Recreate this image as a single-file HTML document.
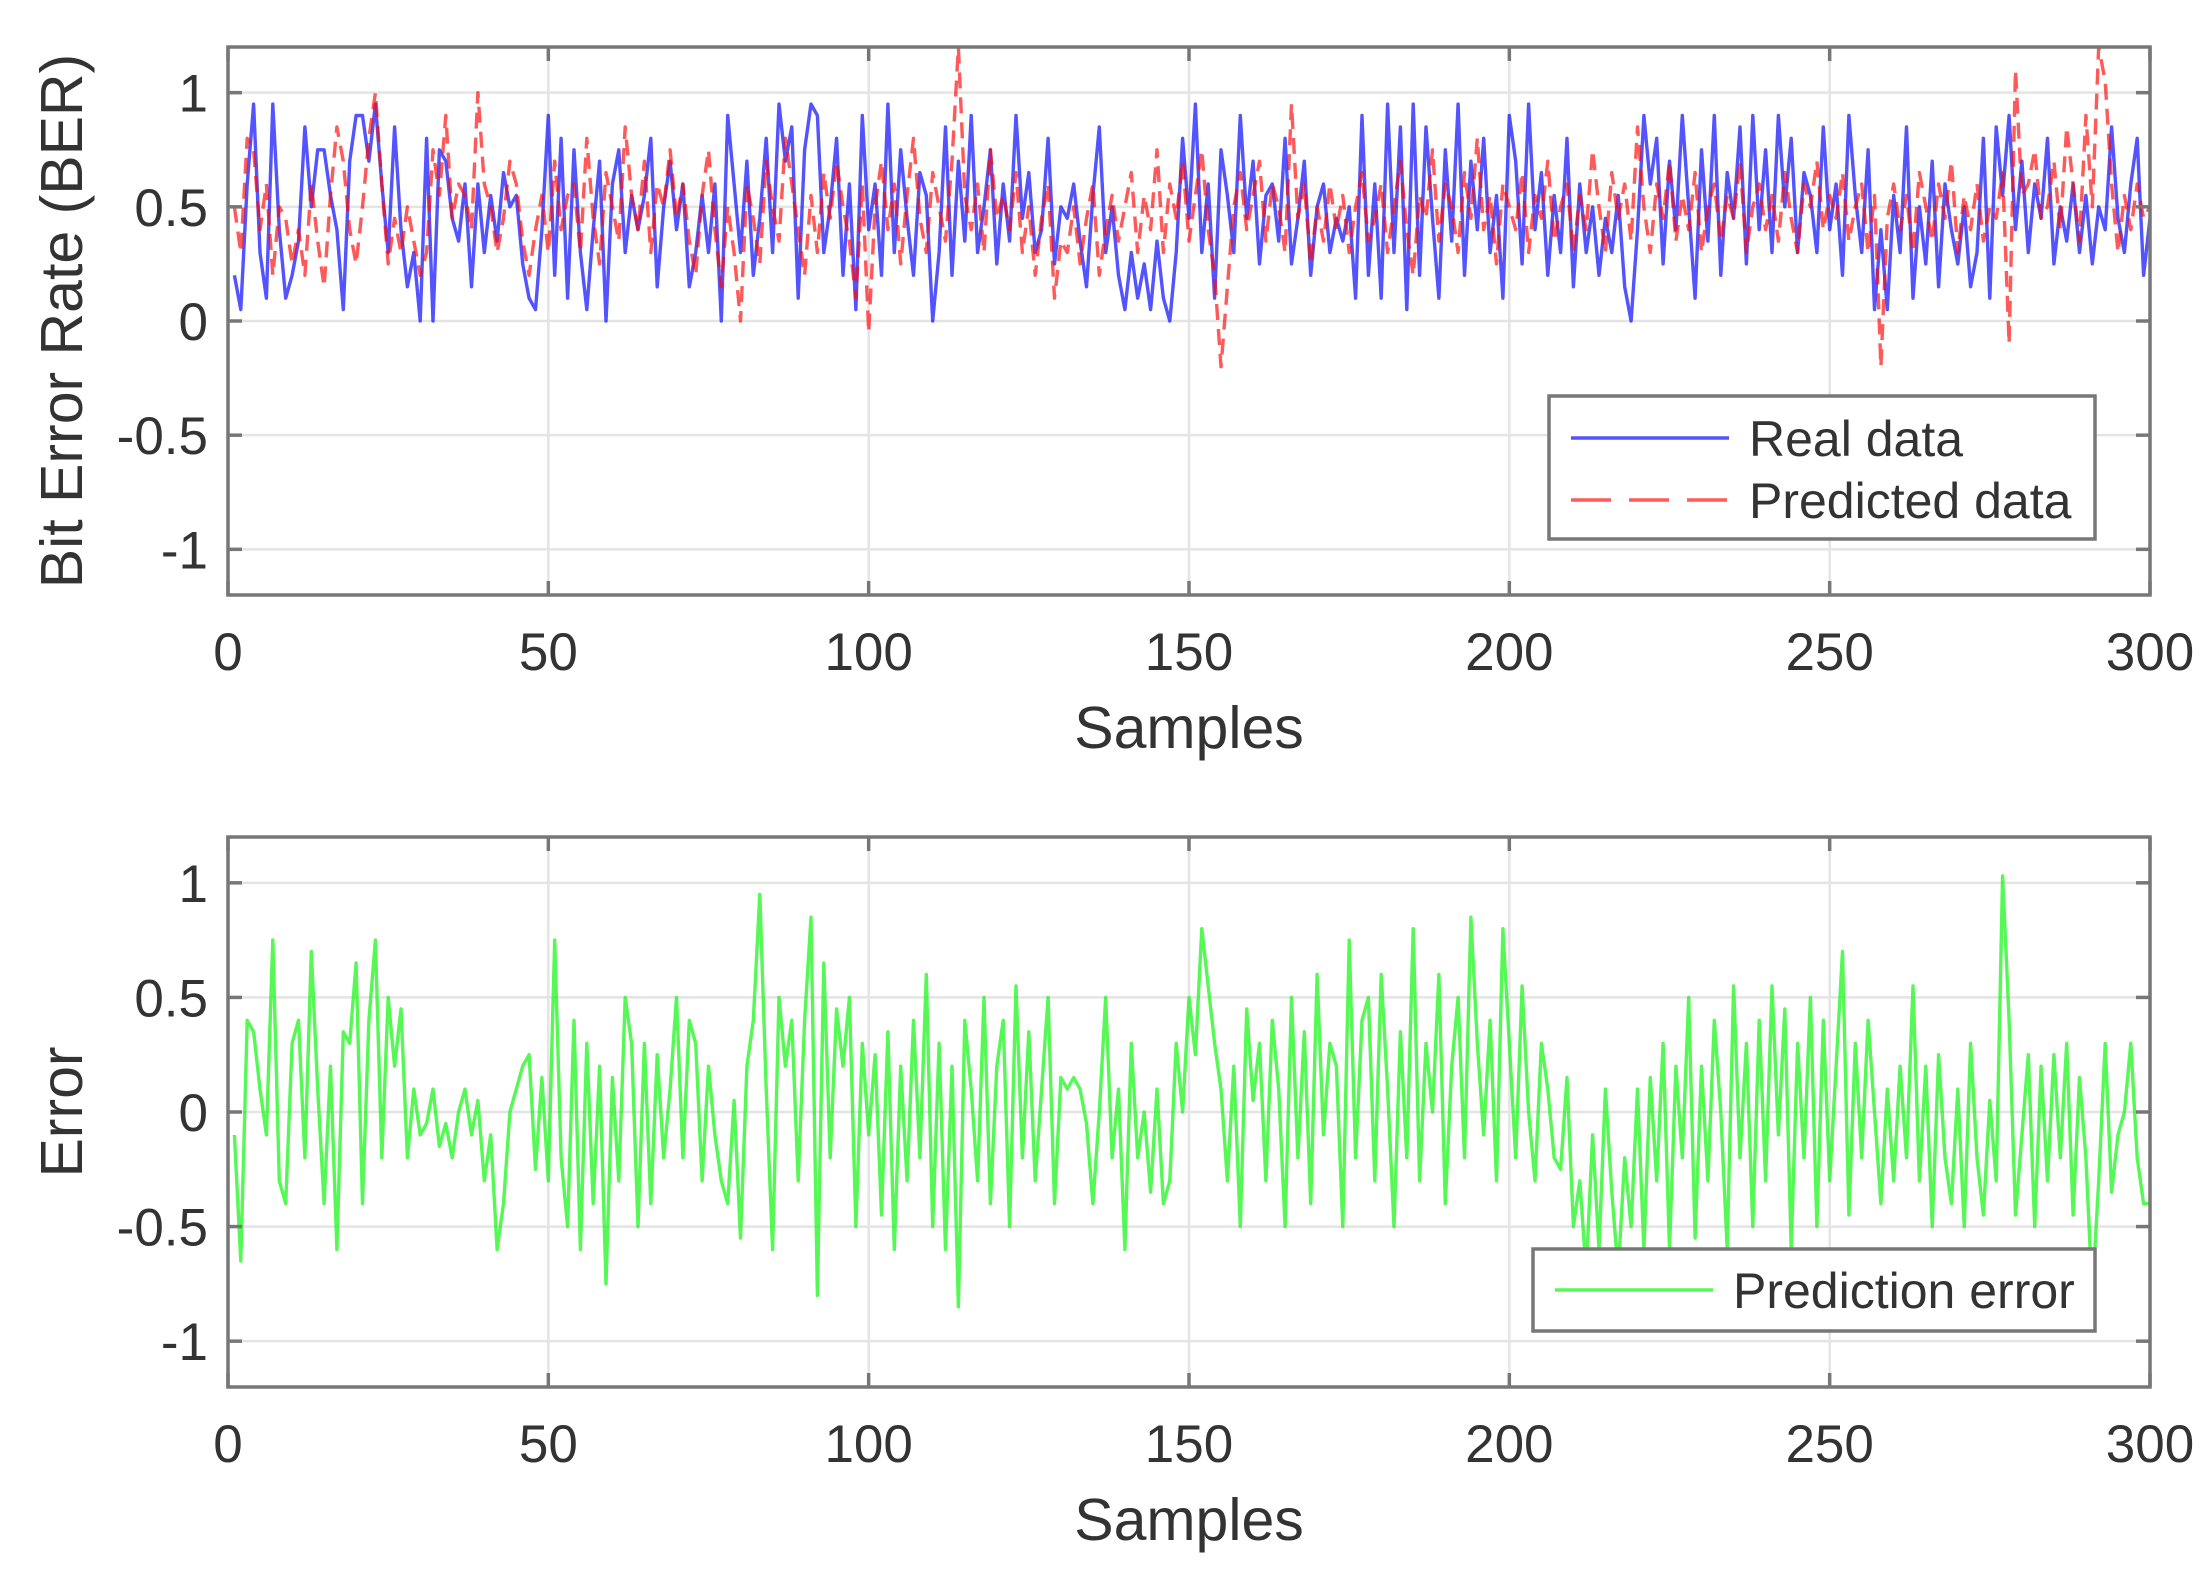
<!DOCTYPE html>
<html><head><meta charset="utf-8"><style>
html,body{margin:0;padding:0;background:#fff}
svg{display:block}
text{font-family:"Liberation Sans",Arial,sans-serif;fill:#333}
</style></head><body>
<svg id="chart" width="2208" height="1570" viewBox="0 0 2208 1570" xmlns="http://www.w3.org/2000/svg"></svg>
<script>
const realData=[0.2,0.05,0.6,0.95,0.3,0.1,0.95,0.4,0.1,0.2,
0.35,0.85,0.5,0.75,0.75,0.55,0.4,0.05,0.7,0.9,
0.9,0.7,0.95,0.6,0.3,0.85,0.4,0.15,0.3,0.0,
0.8,0.0,0.75,0.7,0.45,0.35,0.6,0.15,0.6,0.3,
0.55,0.35,0.65,0.5,0.55,0.25,0.1,0.05,0.4,0.9,
0.2,0.8,0.1,0.75,0.3,0.05,0.4,0.7,0.0,0.6,
0.75,0.3,0.55,0.4,0.55,0.8,0.15,0.5,0.7,0.4,
0.6,0.15,0.3,0.55,0.3,0.6,0.0,0.9,0.6,0.3,
0.7,0.2,0.45,0.8,0.3,0.95,0.7,0.85,0.1,0.75,
0.95,0.9,0.3,0.5,0.8,0.2,0.6,0.05,0.9,0.4,
0.6,0.2,0.95,0.3,0.75,0.45,0.2,0.65,0.55,0.0,
0.3,0.85,0.2,0.7,0.35,0.9,0.3,0.5,0.75,0.25,
0.6,0.35,0.9,0.45,0.65,0.3,0.4,0.8,0.25,0.5,
0.45,0.6,0.35,0.15,0.55,0.85,0.3,0.5,0.2,0.05,
0.3,0.1,0.25,0.05,0.35,0.1,0.0,0.3,0.8,0.45,
0.95,0.3,0.6,0.1,0.75,0.55,0.3,0.9,0.45,0.7,
0.25,0.55,0.6,0.35,0.8,0.25,0.45,0.7,0.2,0.5,
0.6,0.3,0.45,0.35,0.5,0.1,0.9,0.2,0.6,0.1,
0.95,0.3,0.85,0.05,0.95,0.2,0.85,0.45,0.1,0.75,
0.35,0.95,0.2,0.7,0.4,0.8,0.3,0.55,0.1,0.9,
0.7,0.25,0.95,0.4,0.65,0.2,0.55,0.3,0.8,0.15,
0.6,0.3,0.5,0.2,0.45,0.3,0.55,0.15,0.0,0.4,
0.9,0.6,0.8,0.25,0.7,0.4,0.9,0.5,0.1,0.75,
0.35,0.9,0.2,0.65,0.45,0.85,0.25,0.9,0.4,0.75,
0.3,0.9,0.5,0.8,0.3,0.65,0.55,0.3,0.85,0.4,
0.6,0.2,0.9,0.55,0.3,0.75,0.05,0.4,0.05,0.55,
0.3,0.85,0.1,0.5,0.25,0.7,0.15,0.6,0.4,0.25,
0.5,0.15,0.3,0.8,0.1,0.85,0.55,0.9,0.4,0.7,
0.3,0.6,0.45,0.8,0.25,0.5,0.35,0.6,0.3,0.55,
0.25,0.5,0.4,0.85,0.45,0.3,0.6,0.8,0.2,0.45];
const predictedData=[0.5,0.3,0.8,0.75,0.4,0.6,0.2,0.5,0.45,0.25,
0.4,0.2,0.6,0.35,0.15,0.55,0.85,0.7,0.4,0.25,
0.5,0.8,1.0,0.6,0.25,0.45,0.3,0.5,0.35,0.2,
0.3,0.75,0.55,0.9,0.45,0.6,0.55,0.4,1.0,0.6,
0.5,0.3,0.45,0.7,0.6,0.35,0.2,0.4,0.55,0.3,
0.7,0.4,0.55,0.6,0.3,0.8,0.45,0.25,0.65,0.5,
0.35,0.85,0.55,0.4,0.7,0.3,0.6,0.5,0.75,0.45,
0.6,0.35,0.2,0.55,0.75,0.4,0.15,0.5,0.3,0.0,
0.6,0.45,0.25,0.7,0.5,0.35,0.8,0.6,0.4,0.2,
0.55,0.3,0.65,0.45,0.7,0.5,0.35,0.1,0.6,-0.05,
0.5,0.7,0.4,0.6,0.25,0.55,0.8,0.45,0.3,0.65,
0.5,0.35,0.7,1.2,0.55,0.4,0.6,0.3,0.75,0.45,
0.55,0.4,0.65,0.3,0.5,0.2,0.45,0.6,0.1,0.35,
0.3,0.5,0.25,0.45,0.6,0.2,0.4,0.55,0.35,0.5,
0.65,0.3,0.55,0.4,0.75,0.3,0.6,0.45,0.7,0.35,
0.55,0.75,0.4,0.2,-0.2,0.15,0.5,0.65,0.4,0.55,
0.7,0.35,0.6,0.5,0.3,0.95,0.45,0.6,0.25,0.5,
0.35,0.6,0.4,0.55,0.3,0.5,0.65,0.35,0.45,0.6,
0.3,0.5,0.7,0.4,0.2,0.55,0.45,0.75,0.35,0.6,
0.5,0.3,0.65,0.45,0.8,0.4,0.55,0.25,0.6,0.5,
0.4,0.65,0.3,0.55,0.45,0.7,0.35,0.5,0.6,0.3,
0.55,0.4,0.75,0.5,0.3,0.65,0.45,0.6,0.35,0.85,
0.5,0.3,0.6,0.45,0.7,0.35,0.55,0.4,0.65,0.3,
0.5,0.6,0.35,0.55,0.45,0.7,0.3,0.5,0.6,0.4,
0.55,0.35,0.65,0.45,0.3,0.6,0.5,0.7,0.4,0.55,
0.45,0.65,0.35,0.5,0.6,0.3,0.55,-0.2,0.45,0.6,
0.4,0.55,0.3,0.65,0.5,0.35,0.6,0.45,0.7,0.3,
0.55,0.4,0.6,0.35,0.5,0.45,0.65,-0.1,1.1,0.55,
0.6,0.75,0.45,0.5,0.7,0.4,0.85,0.6,0.35,0.9,
0.5,1.2,1.05,0.6,0.3,0.55,0.4,0.6,0.45,0.5];
const errorData=[-0.1,-0.65,0.4,0.35,0.1,-0.1,0.75,-0.3,-0.4,0.3,
0.4,-0.2,0.7,0.1,-0.4,0.2,-0.6,0.35,0.3,0.65,
-0.4,0.4,0.75,-0.2,0.5,0.2,0.45,-0.2,0.1,-0.1,
-0.05,0.1,-0.15,-0.05,-0.2,0.0,0.1,-0.1,0.05,-0.3,
-0.1,-0.6,-0.4,0.0,0.1,0.2,0.25,-0.25,0.15,-0.3,
0.75,-0.2,-0.5,0.4,-0.6,0.3,-0.4,0.2,-0.75,0.15,
-0.3,0.5,0.3,-0.5,0.3,-0.4,0.25,-0.2,0.1,0.5,
-0.2,0.4,0.3,-0.3,0.2,-0.1,-0.3,-0.4,0.05,-0.55,
0.2,0.4,0.95,0.1,-0.6,0.5,0.2,0.4,-0.3,0.4,
0.85,-0.8,0.65,-0.2,0.45,0.2,0.5,-0.5,0.3,-0.1,
0.25,-0.45,0.35,-0.6,0.2,-0.3,0.4,-0.2,0.6,-0.5,
0.3,-0.6,0.2,-0.85,0.4,0.1,-0.3,0.5,-0.4,0.2,
0.4,-0.5,0.55,-0.2,0.35,-0.3,0.1,0.5,-0.4,0.15,
0.1,0.15,0.1,-0.05,-0.4,0.0,0.5,-0.2,0.1,-0.6,
0.3,-0.2,0.0,-0.35,0.1,-0.4,-0.3,0.3,0.0,0.5,
0.25,0.8,0.55,0.3,0.1,-0.3,0.2,-0.5,0.45,0.05,
0.3,-0.3,0.4,0.1,-0.5,0.5,-0.2,0.35,-0.4,0.6,
-0.1,0.3,0.2,-0.5,0.75,-0.2,0.4,0.5,-0.3,0.6,
0.1,-0.5,0.35,-0.2,0.8,-0.3,0.3,0.0,0.6,-0.4,
0.2,0.5,-0.2,0.85,0.3,-0.1,0.4,-0.3,0.8,0.3,
-0.2,0.55,0.0,-0.3,0.3,0.1,-0.2,-0.25,0.15,-0.5,
-0.3,-0.7,-0.1,-0.6,0.1,-0.35,-0.7,-0.2,-0.5,0.1,
-0.6,0.15,-0.3,0.3,-0.6,0.2,-0.2,0.5,-0.55,0.2,
-0.3,0.4,0.0,-0.6,0.55,-0.2,0.3,-0.5,0.4,-0.3,
0.55,-0.1,0.45,-0.6,0.3,-0.2,0.5,-0.5,0.4,-0.3,
0.2,0.7,-0.45,0.3,-0.2,0.4,0.0,-0.4,0.1,-0.3,
0.2,-0.2,0.55,-0.3,0.2,-0.5,0.25,-0.2,-0.4,0.1,
-0.5,0.3,-0.2,-0.45,0.05,-0.3,1.03,0.4,-0.45,-0.1,
0.25,-0.5,0.2,-0.3,0.25,-0.2,0.3,-0.45,0.15,-0.2,
-0.8,-0.3,0.3,-0.35,-0.1,0.0,0.3,-0.2,-0.4,-0.4];
const xTicks=[0,50,100,150,200,250,300];
const yTicks=[-1,-0.5,0,0.5,1];
const yTickLabels=["-1","-0.5","0","0.5","1"];

const NS="http://www.w3.org/2000/svg";
const svg=document.getElementById('chart');
function mk(tag,attrs,parent){const e=document.createElementNS(NS,tag);for(const k in attrs)e.setAttribute(k,attrs[k]);(parent||svg).appendChild(e);return e;}

function drawPanel(p){
  const L=228,R=2150,T=p.top,B=p.bottom,ymin=-1.2,ymax=1.2;
  const xs=v=>L+(v-0)/(300-0)*(R-L);
  const ys=v=>B-(v-ymin)/(ymax-ymin)*(B-T);
  const g=mk('g',{});
  
  
  xTicks.forEach(t=>{const l=mk('line',{x1:xs(t),x2:xs(t),y1:T,y2:B,stroke:'#e4e4e4','stroke-width':2.5},g);
    });
  yTicks.forEach(t=>{const l=mk('line',{x1:L,x2:R,y1:ys(t),y2:ys(t),stroke:'#e4e4e4','stroke-width':2.5},g);
    });
  p.series.forEach(s=>{
    const d=s.data.map((v,i)=>(i?'L':'M')+xs(i+1).toFixed(1)+','+ys(v).toFixed(1)).join('');
    const path=mk('path',{d:d,fill:'none',stroke:s.color,'stroke-width':3.4,'stroke-linejoin':'round'},g);
    if(s.dash)path.setAttribute('stroke-dasharray',s.dash);
    
    
  });
  const fr=mk('rect',{x:L,y:T,width:R-L,height:B-T,fill:'none',stroke:'#777','stroke-width':3.5},g);
  
  xTicks.forEach(t=>{
    mk('line',{x1:xs(t),x2:xs(t),y1:B,y2:B-14,stroke:'#777','stroke-width':3.5},g);
    mk('line',{x1:xs(t),x2:xs(t),y1:T,y2:T+14,stroke:'#777','stroke-width':3.5},g);
    const tx=mk('text',{x:xs(t),y:B+75,'text-anchor':'middle','font-size':53},g);tx.textContent=t;
    
  });
  yTicks.forEach((t,i)=>{
    mk('line',{x1:L,x2:L+14,y1:ys(t),y2:ys(t),stroke:'#777','stroke-width':3.5},g);
    mk('line',{x1:R,x2:R-14,y1:ys(t),y2:ys(t),stroke:'#777','stroke-width':3.5},g);
    const tx=mk('text',{x:L-20,y:ys(t)+19,'text-anchor':'end','font-size':53},g);tx.textContent=yTickLabels[i];
    
  });
  const xl=mk('text',{x:(L+R)/2,y:B+153,'text-anchor':'middle','font-size':59},g);xl.textContent='Samples';
  
  const yl=mk('text',{x:0,y:0,'text-anchor':'middle','font-size':59,transform:`translate(82,${(T+B)/2}) rotate(-90)`},g);yl.textContent=p.ylabel;
  
  const lg=mk('g',{},g);
  
  mk('rect',{x:p.legend.x,y:p.legend.y,width:p.legend.w,height:p.legend.h,fill:'#fff',stroke:'#777','stroke-width':3.5},lg);
  p.series.forEach((s,i)=>{
    const cy=p.legend.y+p.legend.rowStart+i*p.legend.rowGap;
    const ln=mk('line',{x1:p.legend.x+22,x2:p.legend.x+180,y1:cy,y2:cy,stroke:s.color,'stroke-width':3.5},lg);
    if(s.dash)ln.setAttribute('stroke-dasharray','40 18');
    
    const t=mk('text',{x:p.legend.x+p.legend.textX,y:cy+18,'font-size':50,fill:'#222'},lg);t.textContent=s.label;
    
  });
}
drawPanel({name:'ber-panel',top:47,bottom:595,ylabel:'Bit Error Rate (BER)',
  series:[{name:'real-data-line',label:'Real data',data:realData,color:'rgba(10,10,255,0.7)'},
          {name:'predicted-data-line',label:'Predicted data',data:predictedData,color:'rgba(255,10,10,0.68)',dash:'16 9'}],
  legend:{x:1549,y:396,w:546,h:143,rowStart:42,rowGap:62,textX:200}});
drawPanel({name:'error-panel',top:837,bottom:1387,ylabel:'Error',
  series:[{name:'prediction-error-line',label:'Prediction error',data:errorData,color:'rgba(20,245,20,0.72)'}],
  legend:{x:1533,y:1249,w:562,h:82,rowStart:41,rowGap:60,textX:200}});
</script>
</body></html>
